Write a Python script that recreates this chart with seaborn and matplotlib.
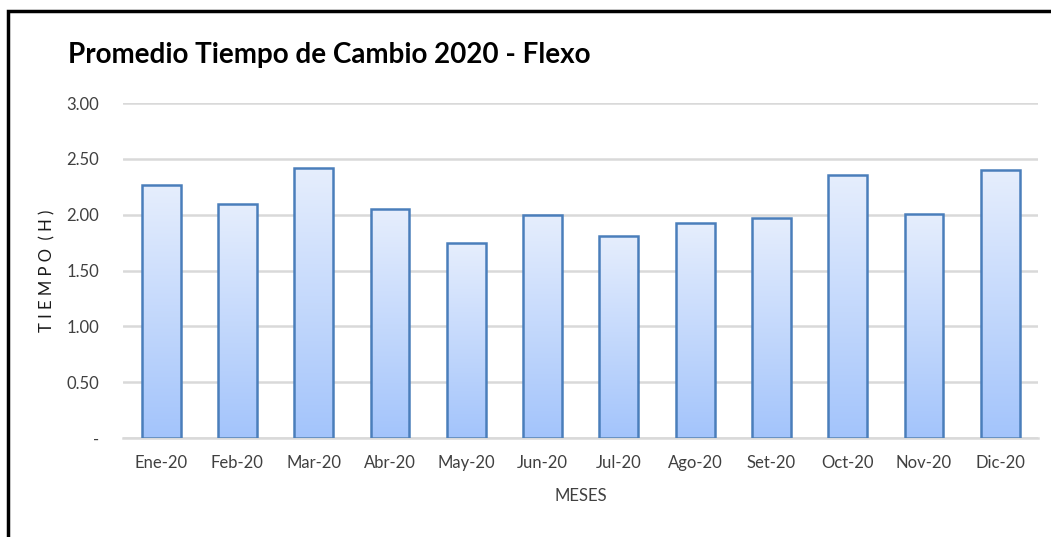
import numpy as np
import pandas as pd
import seaborn as sns
import matplotlib.pyplot as plt
from matplotlib.colors import LinearSegmentedColormap
from matplotlib.patches import Rectangle

meses = ['Ene-20', 'Feb-20', 'Mar-20', 'Abr-20', 'May-20', 'Jun-20',
         'Jul-20', 'Ago-20', 'Set-20', 'Oct-20', 'Nov-20', 'Dic-20']
tiempo = [2.27, 2.10, 2.42, 2.05, 1.75, 2.00, 1.81, 1.93, 1.97, 2.36, 2.01, 2.40]
yticks = [0, 0.5, 1.0, 1.5, 2.0, 2.5, 3.0]
ytick_labels = ['-', '0.50', '1.00', '1.50', '2.00', '2.50', '3.00']

df = pd.DataFrame({'mes': meses, 'tiempo': tiempo})

sns.set_style('white')
plt.rcParams['font.family'] = ['Lato', 'DejaVu Sans']

fig = plt.figure(figsize=(10.51, 5.37), dpi=100)
ax = fig.add_axes([0.117, 0.184, 0.871, 0.624])

sns.barplot(data=df, x='mes', y='tiempo', ax=ax, width=0.51,
            color='#a3c4fb', edgecolor='#4a7ebb', linewidth=1.8, zorder=3)

# degradado vertical dentro de cada barra
cmap = LinearSegmentedColormap.from_list('grad', ['#a3c4fb', '#e6eefd'])
grad = np.linspace(0, 1, 256).reshape(-1, 1)
for bar in ax.patches:
    bar.set_facecolor('none')
    x0, y0 = bar.get_x(), bar.get_y()
    w, h = bar.get_width(), bar.get_height()
    im = ax.imshow(grad, cmap=cmap, origin='lower', aspect='auto',
                   extent=[x0, x0 + w, y0, y0 + h], zorder=2)
    im.set_clip_path(bar)

ax.set_xlim(-0.5, 11.5)
ax.set_ylim(0, 3.0)
ax.set_yticks(yticks)
ax.set_yticklabels(ytick_labels)
ax.yaxis.grid(True, color='#d9d9d9', linewidth=1.8, zorder=0)
ax.set_axisbelow(True)
for s in ['top', 'right', 'left']:
    ax.spines[s].set_visible(False)
ax.spines['bottom'].set_color('#d9d9d9')
ax.spines['bottom'].set_linewidth(1.8)
ax.tick_params(axis='both', length=0, labelsize=12, colors='#404040')
ax.tick_params(axis='x', pad=12)
ax.tick_params(axis='y', pad=17)

ax.set_xlabel('MESES', fontsize=12, color='#404040', labelpad=12)
ax.set_ylabel('T I E M P O  ( H )', fontsize=12, color='#1a1a1a', labelpad=8)

fig.text(0.065, 0.898, 'Promedio Tiempo de Cambio 2020 - Flexo',
         fontsize=20, fontweight='bold', color='black', va='center')

# marco de la imagen
fig.patches.append(Rectangle((0.0075, -0.05), 1.1, 1.03, transform=fig.transFigure,
                             fill=False, edgecolor='black', linewidth=2.5))

fig.savefig('out.png', dpi=100)
